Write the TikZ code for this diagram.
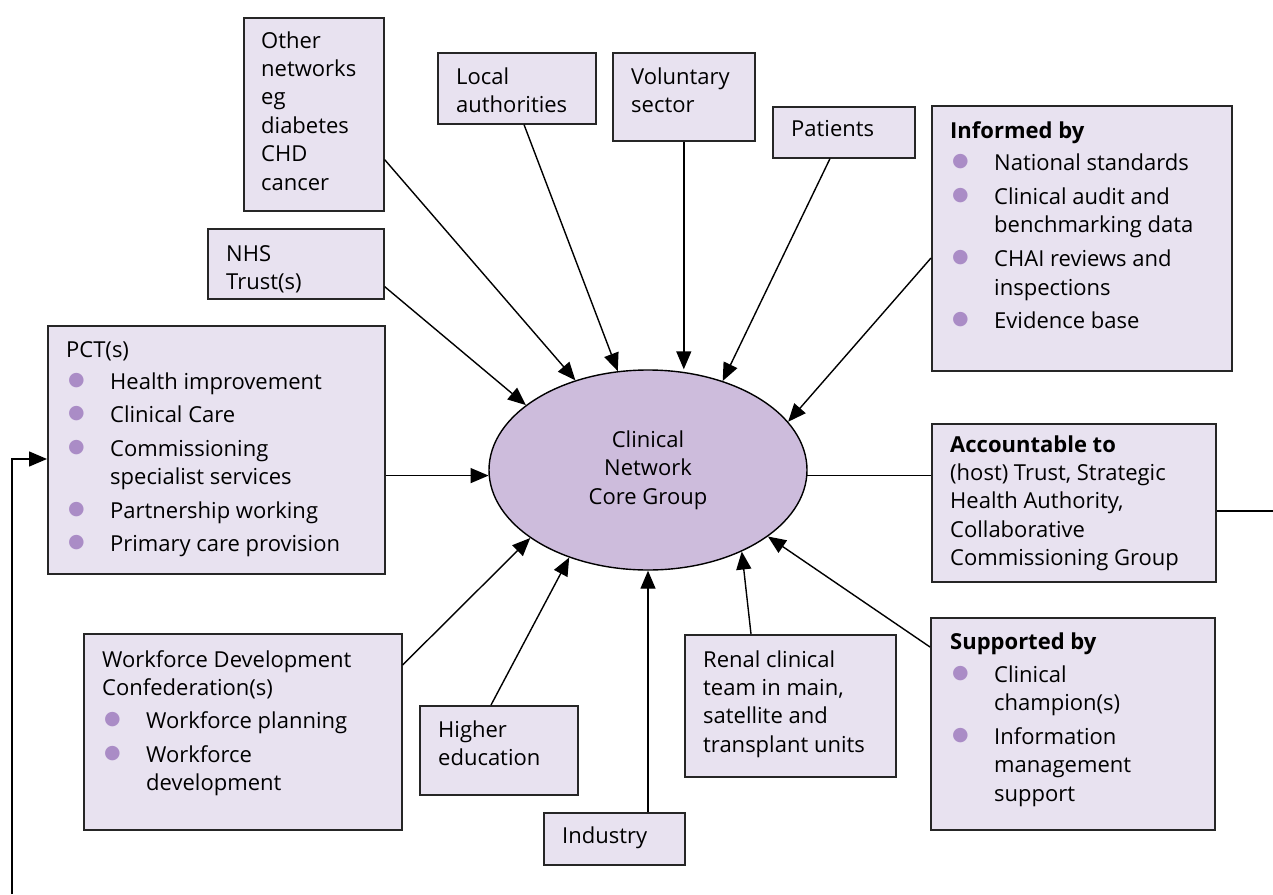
\documentclass[tikz,border=0pt]{standalone}
\usepackage{fontspec}
\setmainfont{Open Sans}
\newfontfamily\dejavu{DejaVu Sans}
\usetikzlibrary{arrows.meta,calc,shapes.geometric}
\definecolor{boxfill}{HTML}{E8E2F0}
\definecolor{corefill}{HTML}{CDBCDC}
\definecolor{bul}{HTML}{AA8CC6}
\newcommand{\bl}{\hspace*{2pt}\makebox[42pt][l]{\textcolor{bul}{\dejavu\fontsize{19}{19}\selectfont\raisebox{4pt}{●}}}}
\newcommand{\ind}{\hspace*{44pt}}
\begin{document}
\begin{tikzpicture}[x=1pt,y=-1pt,
  box/.style={draw=black!85,line width=1.6pt,fill=boxfill,rectangle,inner sep=0pt,anchor=north west},
  txt/.style={anchor=north west,inner sep=0pt,align=left,font=\fontsize{22}{28.4}\selectfont},
  arr/.style={line width=1.4pt,-{Triangle[length=18pt,width=15pt]}},
  ln/.style={line width=1.4pt}]
\useasboundingbox (0,0) rectangle (1273,894);
% boxes
\node[box,minimum width=140pt,minimum height=193pt] (other) at (243,17) {};
\node[box,minimum width=158pt,minimum height=71pt] (local) at (437,52) {};
\node[box,minimum width=142pt,minimum height=88pt] (vol) at (612,52) {};
\node[box,minimum width=142pt,minimum height=51pt] (pat) at (772,106) {};
\node[box,minimum width=300pt,minimum height=265pt] (inf) at (931,105) {};
\node[box,minimum width=176pt,minimum height=70pt] (nhs) at (207,228) {};
\node[box,minimum width=337pt,minimum height=248pt] (pct) at (47,325) {};
\node[box,minimum width=284pt,minimum height=158pt] (acc) at (931,423) {};
\node[box,minimum width=318pt,minimum height=196pt] (wdc) at (83,633) {};
\node[box,minimum width=158pt,minimum height=89pt] (he) at (419,705) {};
\node[box,minimum width=141pt,minimum height=52pt] (ind) at (543,812) {};
\node[box,minimum width=211pt,minimum height=142pt] (ren) at (684,634) {};
\node[box,minimum width=284pt,minimum height=212pt] (sup) at (930,617) {};
\node[draw=black,line width=1.4pt,fill=corefill,ellipse,minimum width=318pt,minimum height=200pt,inner sep=0pt,align=center,font=\fontsize{22}{28.3}\selectfont] (core) at (648,470) {Clinical\\Network\\Core Group};
% texts
\node[txt] (othert) at (261,28) {\strut Other\\networks\\eg\\diabetes\\CHD\\cancer};
\node[txt] (localt) at (456,64) {\strut Local\\authorities};
\node[txt] (volt) at (631,64) {\strut Voluntary\\sector};
\node[txt] (patt) at (791,116) {\strut Patients};
\node[txt] (inft) at (950,118) {\strut\textbf{Informed by}\\[4pt]
\bl National standards\\[5.5pt]
\bl Clinical audit and\\
\ind benchmarking data\\[5.5pt]
\bl CHAI reviews and\\
\ind inspections\\[5.5pt]
\bl Evidence base};
\node[txt] (nhst) at (226,241) {\strut NHS\\Trust(s)};
\node[txt] (pctt) at (66,337) {\strut PCT(s)\\[4pt]
\bl Health improvement\\[5pt]
\bl Clinical Care\\[5pt]
\bl Commissioning\\
\ind specialist services\\[5pt]
\bl Partnership working\\[5pt]
\bl Primary care provision};
\node[txt] (acct) at (950,432) {\strut\textbf{Accountable to}\\(host) Trust, Strategic\\Health Authority,\\Collaborative\\Commissioning Group};
\node[txt] (wdct) at (102,647) {\strut Workforce Development\\Confederation(s)\\[5pt]
\bl Workforce planning\\[5pt]
\bl Workforce\\
\ind development};
\node[txt] (het) at (438,717) {\strut Higher\\education};
\node[txt] (indt) at (562,823) {\strut Industry};
\node[txt] (rent) at (703,647) {\strut Renal clinical\\team in main,\\satellite and\\transplant units};
\node[txt] (supt) at (950,629) {\strut\textbf{Supported by}\\[5pt]
\bl Clinical\\
\ind champion(s)\\[5pt]
\bl Information\\
\ind management\\
\ind support};
% connectors
\draw[arr] ($(other.south east)+(0,-52)$) -- (core.129.8);
\draw[arr] ($(local.south west)+(87,0)$) -- (core.107.2);
\draw[arr] (vol.south) -- (vol.south |- core.north);
\draw[arr] ($(pat.south west)+(58,0)$) -- (core.50.1);
\draw[arr] ($(inf.north west)+(0,153)$) -- (core.19.7);
\draw[arr] ($(nhs.south east)+(0,-13)$) -- (core.152.5);
\draw[arr] (pct.east |- core.182.5) -- (core.182.5);
\draw[ln] (core.-2.5) -- (acc.west |- core.-2.5);
\draw[arr] ($(wdc.north east)+(0,32)$) -- (core.210.4);
\draw[arr] ($(he.north west)+(72,0)$) -- (core.228.9);
\draw[arr] (core.south |- ind.north) -- (core.south);
\draw[arr] ($(ren.north west)+(67,0)$) -- (core.-41);
\draw[arr] ($(sup.north west)+(0,30)$) -- (core.-29.5);
% feedback loop
\coordinate (loopR) at (1273,511);
\coordinate (loopB) at (12,894);
\draw[ln] (acc.east |- loopR) -- (loopR);
\draw[arr] (loopB) |- ($(pct.north west)+(0,134)$);
\end{tikzpicture}
\end{document}
